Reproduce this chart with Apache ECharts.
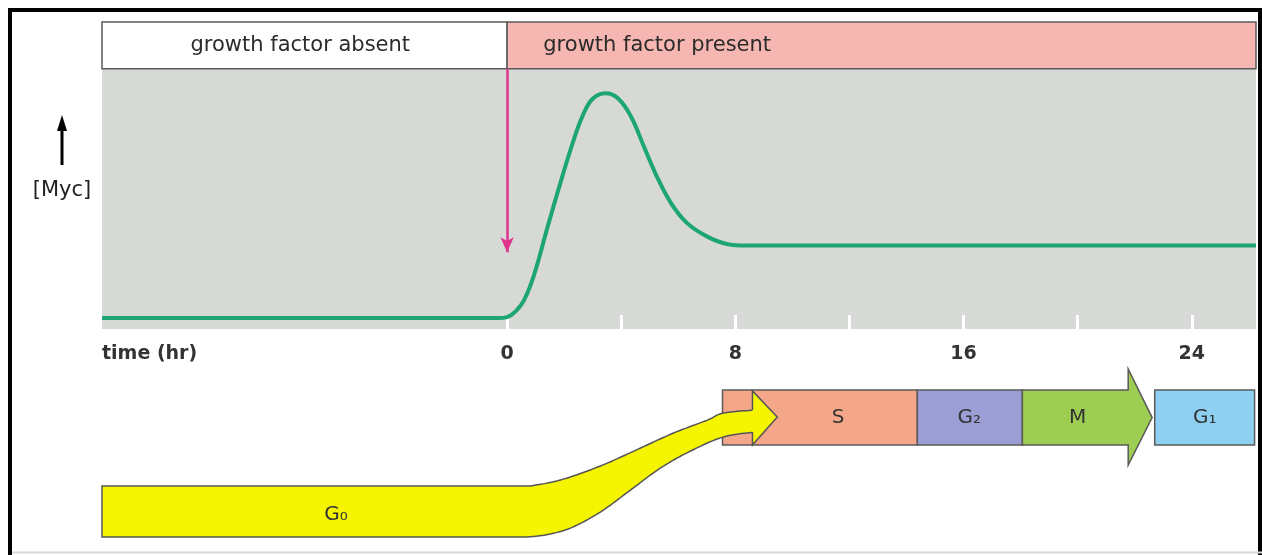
<!DOCTYPE html>
<html><head><meta charset="utf-8">
<script src="https://cdn.jsdelivr.net/npm/echarts@6/dist/echarts.min.js"></script>
<style>html,body{margin:0;padding:0;background:#fff}#c{width:1262px;height:555px}</style>
</head><body><div id="c"></div>
<script>
// ---------- data ----------
const xMin = -14.2, xMax = 26.25;
const mycT = [-14.2, -0.3, 0, 0.3, 0.6, 0.95, 1.4, 1.85, 2.3, 2.65, 3.0, 3.45, 3.9, 4.35, 4.8, 5.25, 5.75, 6.3, 7.0, 7.7, 8.4, 26.25];
const mycV = [4.2, 4.2, 4.6, 6.8, 11.2, 21.0, 38.5, 55.5, 71.5, 82, 88.5, 90.6, 88.5, 81.5, 70, 58.6, 48.3, 40.8, 35.6, 32.7, 32.1, 32.1];
const tickValues = [0, 4, 8, 12, 16, 20, 24];
const tickLabels = [0, 8, 16, 24];
const headerLabels = ['growth factor absent', 'growth factor present'];
const headerStart = [-14.2, 0];
const headerEnd = [0, 26.25];
const headerLabelT = [-7.25, 5.26];
const stimulusT = 0;
const stimulusFrom = 100, stimulusTo = 29.5;
const phaseNames = ['S', 'G\u2082', 'M', 'G\u2081'];
const phaseStart = [7.55, 14.38, 18.06, 22.7];
const phaseEnd = [14.38, 18.06, 22.61, 26.2];
const phaseLabelT = [11.6, 16.2, 20.0, 24.45];
const mHeadStart = 21.77;
const g0Label = 'G\u2080';
const g0LabelT = -6.0;
const g0TopT = [-14.2, 0.82, 1.87, 3.27, 4.68, 5.83, 7.02, 7.58, 8.7];
const g0TopV = [32.8, 32.8, 36.1, 43.9, 53.9, 62.2, 69.4, 73.3, 75.0];
const g0BotT = [-14.2, 0.65, 1.35, 2.22, 3.27, 4.33, 5.38, 6.43, 7.58, 8.7];
const g0BotV = [4.4, 4.4, 5.6, 9.4, 18.3, 30.6, 42.8, 52.2, 60.0, 62.8];
const g0HeadT = [8.6, 9.47];   // back, tip
const g0HeadV = [85.6, 71.1, 55.6]; // top, tip, bottom

// ---------- layout / style ----------
const FONT = 'DejaVu Sans';
const BORDER = '#5a5a5a';
const headerColors = ['#ffffff', '#f6b6b1'];
const phaseColors = ['#f4a689', '#9b9dd5', '#9dcd52', '#8ed0f2'];
const BOX_TOP = 86.1, BOX_BOT = 55.6, BOX_MID = 70.8, HEAD_TOP = 97.8, HEAD_BOT = 44.4;
const G0_MID = 16.7;

// Catmull-Rom rendering of an outline (pixel space); first segment kept straight
function smoothEdge(pts, n) {
  const sp = pts.slice(1);
  const out = [pts[0]];
  for (let i = 0; i < sp.length - 1; i++) {
    const p0 = sp[Math.max(0, i - 1)], p1 = sp[i], p2 = sp[i + 1], p3 = sp[Math.min(sp.length - 1, i + 2)];
    for (let k = 0; k < n; k++) {
      const t = k / n, t2 = t * t, t3 = t2 * t;
      const f = (a, b, c, d) => 0.5 * ((2 * b) + (-a + c) * t + (2 * a - 5 * b + 4 * c - d) * t2 + (-a + 3 * b - 3 * c + d) * t3);
      out.push([f(p0[0], p1[0], p2[0], p3[0]), f(p0[1], p1[1], p2[1], p3[1])]);
    }
  }
  out.push(sp[sp.length - 1]);
  return out;
}

const chart = echarts.init(document.getElementById('c'), null, {renderer: 'canvas'});
const mycData = mycT.map((t, i) => [t, mycV[i]]);
const headerData = headerLabels.map((l, i) => [headerStart[i], headerEnd[i], headerLabelT[i]]);
const phaseData = phaseNames.map((n, i) => [phaseStart[i], phaseEnd[i], phaseLabelT[i]]);

const option = {
  backgroundColor: '#ffffff',
  animation: false,
  grid: [
    {left: 102, right: 6, top: 22, bottom: 226},
    {left: 102, right: 6, top: 365, bottom: 10}
  ],
  xAxis: [
    {type: 'value', gridIndex: 0, min: xMin, max: xMax, z: 1,
     axisLine: {show: false}, splitLine: {show: false},
     axisTick: {show: true, inside: true, length: 14, customValues: tickValues, lineStyle: {color: '#ffffff', width: 3}},
     axisLabel: {show: true, customValues: tickLabels, margin: 16, fontFamily: FONT, fontWeight: 'bold', fontSize: 19, color: '#333'}},
    {type: 'value', gridIndex: 1, min: xMin, max: xMax, show: false}
  ],
  yAxis: [
    {type: 'value', gridIndex: 0, min: 0, max: 118, show: false},
    {type: 'value', gridIndex: 1, min: 0, max: 100, show: false}
  ],
  graphic: [
    {type: 'rect', shape: {x: 10, y: 10, width: 1250, height: 600}, style: {fill: 'none', stroke: '#000', lineWidth: 4}, z: 100},
    {type: 'line', shape: {x1: 12, y1: 552.5, x2: 1262, y2: 552.5}, style: {stroke: '#d8d8d8', lineWidth: 2}, z: 100},
    {type: 'text', x: 102, y: 354, style: {text: 'time (hr)', fontFamily: FONT, fontWeight: 'bold', fontSize: 19, fill: '#333', verticalAlign: 'middle', align: 'left'}},
    {type: 'text', x: 62, y: 191, style: {text: '[Myc]', fontFamily: FONT, fontSize: 21, fill: '#222', verticalAlign: 'middle', align: 'center'}},
    {type: 'line', shape: {x1: 62, y1: 128, x2: 62, y2: 165}, style: {stroke: '#000', lineWidth: 3}},
    {type: 'polygon', shape: {points: [[62, 115], [57, 131], [67, 131]]}, style: {fill: '#000'}}
  ],
  series: [
    {type: 'custom', xAxisIndex: 0, yAxisIndex: 0, z: 0, silent: true, data: [[xMin, xMax]],
     renderItem: (p, api) => {
       const a = api.coord([api.value(0), 100]), b = api.coord([api.value(1), 0]);
       return {type: 'rect', shape: {x: a[0], y: a[1], width: b[0] - a[0], height: b[1] - a[1]}, style: {fill: '#d6d9d5'}};
     }},
    {type: 'custom', xAxisIndex: 0, yAxisIndex: 0, z: 4, silent: true, data: headerData,
     renderItem: (p, api) => {
       const i = p.dataIndex;
       const a = api.coord([api.value(0), 118]), b = api.coord([api.value(1), 100]);
       const c = api.coord([api.value(2), 109]);
       return {type: 'group', children: [
         {type: 'rect', shape: {x: a[0], y: a[1], width: b[0] - a[0], height: b[1] - a[1]}, style: {fill: headerColors[i], stroke: BORDER, lineWidth: 1.5}},
         {type: 'text', x: c[0], y: c[1], style: {text: headerLabels[i], fontFamily: FONT, fontSize: 21, fill: '#2b2b2b', align: 'center', verticalAlign: 'middle'}}
       ]};
     }},
    {type: 'line', xAxisIndex: 0, yAxisIndex: 0, z: 3, data: mycData, showSymbol: false, smooth: 0.4,
     lineStyle: {color: '#1da673', width: 4}, silent: true,
     markLine: {silent: true, symbol: ['none', 'arrow'], symbolSize: [10, 15], label: {show: false},
       lineStyle: {color: '#e0338e', width: 2.5, type: 'solid'},
       data: [[{coord: [stimulusT, stimulusFrom]}, {coord: [stimulusT, stimulusTo]}]]}},
    {type: 'custom', xAxisIndex: 1, yAxisIndex: 1, z: 2, silent: true, data: phaseData,
     renderItem: (p, api) => {
       const i = p.dataIndex;
       const s = api.value(0), e = api.value(1);
       let shape;
       if (phaseNames[i] === 'M') {
         const pts = [[s, BOX_TOP], [mHeadStart, BOX_TOP], [mHeadStart, HEAD_TOP], [e, BOX_MID], [mHeadStart, HEAD_BOT], [mHeadStart, BOX_BOT], [s, BOX_BOT]].map(q => api.coord(q));
         shape = {type: 'polygon', shape: {points: pts}, style: {fill: phaseColors[i], stroke: BORDER, lineWidth: 1.5}};
       } else {
         const a = api.coord([s, BOX_TOP]), b = api.coord([e, BOX_BOT]);
         shape = {type: 'rect', shape: {x: a[0], y: a[1], width: b[0] - a[0], height: b[1] - a[1]}, style: {fill: phaseColors[i], stroke: BORDER, lineWidth: 1.5}};
       }
       const c = api.coord([api.value(2), BOX_MID]);
       return {type: 'group', children: [shape,
         {type: 'text', x: c[0], y: c[1], z2: 10, style: {text: phaseNames[i], fontFamily: FONT, fontSize: 20, fill: '#333', align: 'center', verticalAlign: 'middle'}}]};
     }},
    {type: 'custom', xAxisIndex: 1, yAxisIndex: 1, z: 5, silent: true, data: [[0]],
     renderItem: (p, api) => {
       const top = smoothEdge(g0TopT.map((t, i) => api.coord([t, g0TopV[i]])), 12);
       const bot = smoothEdge(g0BotT.map((t, i) => api.coord([t, g0BotV[i]])), 12);
       const ribbon = top.concat(bot.slice().reverse());
       const hb = api.coord([g0HeadT[0], g0HeadV[0]]), ht = api.coord([g0HeadT[1], g0HeadV[1]]), hbb = api.coord([g0HeadT[0], g0HeadV[2]]);
       const sTop = api.coord([g0HeadT[0], g0TopV[g0TopV.length - 1]]), sBot = api.coord([g0HeadT[0], g0BotV[g0BotV.length - 1]]);
       const lc = api.coord([g0LabelT, G0_MID]);
       return {type: 'group', children: [
         {type: 'polygon', shape: {points: ribbon}, style: {fill: '#f5f500', stroke: '#555', lineWidth: 1.5}},
         {type: 'polygon', shape: {points: [hb, ht, hbb]}, style: {fill: '#f5f500'}},
         {type: 'polyline', shape: {points: [sTop, hb, ht, hbb, sBot]}, style: {fill: null, stroke: '#555', lineWidth: 1.5}},
         {type: 'text', x: lc[0], y: lc[1], style: {text: g0Label, fontFamily: FONT, fontSize: 20, fill: '#333', align: 'center', verticalAlign: 'middle'}}
       ]};
     }}
  ]
};
chart.setOption(option);
</script></body></html>
